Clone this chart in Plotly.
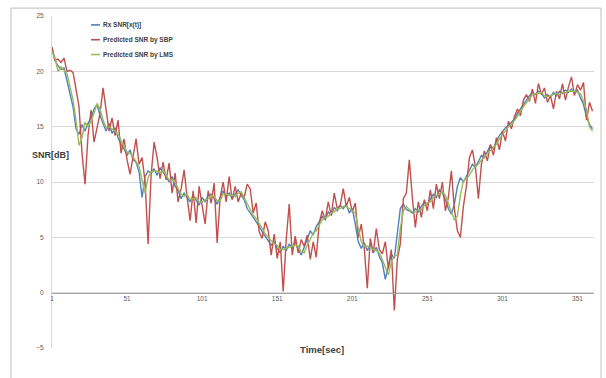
import plotly.graph_objects as go

# time axis (seconds), sampled every 2 s
times = list(range(1, 362, 2))

rx_snr = [22.0, 21.0, 20.5, 20.2, 20.3, 19.2, 18.0, 16.8, 14.8, 14.3,
          15.2, 14.6, 15.3, 15.8, 16.6, 17.0, 16.0, 15.2, 14.6, 15.3,
          14.4, 14.9, 14.0, 13.4, 13.0, 12.4, 12.9, 12.0, 11.8, 10.9,
          8.6, 10.5, 11.0, 10.8, 11.2, 10.6, 11.3, 10.9, 10.4, 10.0,
          10.5, 9.6, 9.2, 8.5, 9.0, 8.6, 8.2, 8.8, 8.4, 7.9,
          8.6, 8.2, 8.8, 8.9, 8.5, 8.0, 8.6, 9.2, 8.7, 9.0,
          8.5, 8.9, 9.3, 8.8, 8.4, 7.6, 7.2, 6.8, 6.5, 6.0,
          5.5, 5.1, 4.8, 4.3, 4.6, 4.0, 3.6, 4.2, 3.8, 4.4,
          4.0, 4.6, 3.9, 3.4, 4.1, 4.8, 5.6, 5.2, 6.0, 6.4,
          6.9, 6.6, 7.3, 7.0, 7.7, 7.4, 7.9, 7.6, 8.0, 7.2,
          7.6, 6.2, 4.6, 4.0, 4.5, 3.8, 4.4, 3.6, 4.1, 3.3,
          2.7, 1.2, 2.4, 3.5, 3.1, 5.2, 7.6, 8.0, 7.5, 7.4,
          7.2, 7.6, 7.3, 7.8, 8.2, 8.0, 8.5, 8.9, 8.6, 9.3,
          9.0, 8.4, 7.6, 7.1, 8.0, 9.6, 10.4, 10.0, 10.5, 11.0,
          11.6, 11.3, 11.9, 12.4, 12.2, 12.8, 13.3, 13.0, 13.7, 14.2,
          14.6, 14.9, 15.1, 15.4, 15.7, 16.2, 16.6, 17.0, 17.5, 17.8,
          18.1, 17.9, 18.2, 18.0, 17.6, 17.9, 17.7, 18.1, 17.8, 18.2,
          18.0, 18.3, 18.1, 18.4, 18.0, 18.3, 17.6, 17.0, 15.9, 15.2,
          14.8]

sbp_pred = [22.2, 21.0, 21.1, 20.8, 21.2, 20.0, 20.1, 19.9, 18.4, 16.8,
            12.6, 9.8, 14.2, 16.5, 13.6, 14.8, 16.2, 18.5, 16.6, 14.6,
            15.8, 14.2, 15.6, 12.6, 13.9, 12.0, 10.7, 12.5, 13.9, 11.6,
            12.2, 10.0, 4.4, 10.6, 13.6, 12.2, 10.3, 11.8, 10.2, 11.7,
            9.0, 10.8, 8.2, 9.4, 11.1, 8.6, 6.5, 9.2, 6.3, 9.6,
            8.0, 6.2, 9.2, 8.1, 9.9, 4.5, 8.6, 10.0, 8.2, 10.5,
            8.4, 9.6, 8.2, 9.0, 8.6, 9.8, 9.4, 7.2, 8.1, 5.5,
            4.9, 6.4, 5.6, 3.4, 5.3, 3.1, 4.6, 0.1, 4.8, 8.0,
            3.4, 5.1, 3.6, 4.8, 4.2, 5.2, 3.0, 4.6, 3.2, 6.3,
            7.4, 6.6, 8.2, 7.0, 9.0, 7.6, 7.9, 9.4, 7.8, 8.6,
            7.3, 8.1, 5.0, 6.2, 4.0, 0.4, 4.9, 3.6, 5.8, 3.9,
            3.5, 4.6, 2.2, 3.9, -1.6, 3.0, 4.4, 8.5, 9.0, 12.0,
            8.6, 5.9, 8.2, 6.8, 8.4, 7.4, 9.3, 7.6, 9.8, 8.5,
            10.0, 7.4, 8.6, 11.0, 7.6, 5.6, 5.0, 7.8, 9.6, 12.2,
            12.9, 11.4, 8.5, 11.6, 12.8, 11.9, 13.4, 12.4, 14.0, 12.9,
            14.6, 13.7, 15.5, 14.8, 15.9, 16.6, 16.0, 17.4, 17.9, 17.3,
            18.4, 17.1, 18.9, 17.9, 18.5, 17.2, 17.8, 16.6, 18.2, 17.5,
            18.9, 17.4, 18.6, 19.5, 17.8, 18.8, 18.3, 19.0, 15.6, 17.2,
            16.4]

lms_pred = [21.8, 21.2, 20.0, 20.4, 20.1, 19.8, 18.6, 17.4, 15.6, 13.3,
            14.0, 15.4, 15.0, 15.5, 16.2, 17.1, 16.6, 15.6, 14.9, 15.0,
            14.8, 14.6, 14.3, 13.7, 13.2, 12.7, 12.6, 12.3, 11.9, 11.4,
            10.2, 9.0, 10.4, 10.9, 11.0, 11.0, 10.8, 11.1, 10.6, 10.2,
            10.2, 10.0, 9.4, 8.9, 8.7, 8.9, 8.4, 8.5, 8.6, 8.2,
            8.2, 8.4, 8.5, 8.8, 8.7, 8.3, 8.3, 8.9, 8.9, 8.8,
            8.8, 8.7, 9.0, 9.1, 8.6, 8.0, 7.5, 7.0, 6.7, 6.3,
            5.8, 5.3, 5.0, 4.6, 4.4, 4.3, 3.9, 3.9, 4.0, 4.1,
            4.2, 4.3, 4.2, 3.7, 3.6, 4.3, 4.8, 5.4, 5.6, 6.1,
            6.6, 6.8, 6.9, 7.2, 7.3, 7.6, 7.6, 7.8, 7.8, 7.6,
            7.4, 7.2, 5.8, 4.6, 4.2, 4.2, 4.1, 3.9, 3.8, 3.6,
            3.0, 2.3, 1.6, 2.8, 3.3, 3.4, 5.8, 7.4, 7.8, 7.5,
            7.3, 7.3, 7.5, 7.5, 7.9, 8.1, 8.2, 8.6, 8.8, 8.9,
            9.1, 8.8, 8.0, 7.4, 6.6, 6.9, 8.8, 10.1, 10.3, 10.6,
            11.1, 11.4, 11.6, 12.0, 12.3, 12.5, 12.9, 13.2, 13.4, 13.9,
            14.3, 14.7, 15.0, 15.2, 15.5, 15.9, 16.4, 16.8, 17.2, 17.6,
            17.9, 18.0, 18.0, 18.1, 17.8, 17.7, 17.8, 17.9, 18.0, 17.9,
            18.1, 18.1, 18.2, 18.2, 18.2, 18.1, 18.0, 17.3, 16.5, 15.0,
            14.6]

x_tick_vals = [1, 51, 101, 151, 201, 251, 301, 351]
y_tick_vals = [-5, 0, 5, 10, 15, 20, 25]

series_names = ["Rx SNR[x(t)]", "Predicted SNR by SBP", "Predicted SNR by LMS"]
series_colors = ["#4F81BD", "#C0504D", "#9BBB59"]

# layout geometry (pixels)
W, H = 606, 378
ML, MR, MT, MB = 52, 12, 12, 30
PW, PH = W - ML - MR, H - MT - MB
y_min, y_max = -5, 25

fig = go.Figure()
for name, vals, col in zip(series_names, [rx_snr, sbp_pred, lms_pred], series_colors):
    fig.add_trace(go.Scatter(x=times, y=vals, mode="lines", name=name,
                             line=dict(color=col, width=1.4), showlegend=False))

font_fam = "Liberation Sans, Arial, sans-serif"


def px_x(p):
    return (p - ML) / PW


def px_y(p):
    return (H - MB - p) / PH


# manual legend (Excel style: short sample line + text)
shapes = [dict(type="rect", xref="paper", yref="paper",
               x0=px_x(11), x1=px_x(601), y0=px_y(384), y1=px_y(4),
               line=dict(color="#BFBFBF", width=1), fillcolor="rgba(0,0,0,0)",
               layer="above")]
annotations = []
for i, (name, col) in enumerate(zip(series_names, series_colors)):
    row_y = 21 + 15 * i
    shapes.append(dict(type="line", xref="paper", yref="paper",
                       x0=px_x(91), x1=px_x(100), y0=px_y(row_y), y1=px_y(row_y),
                       line=dict(color=col, width=1.6)))
    annotations.append(dict(text="<b>" + name + "</b>", xref="paper", yref="paper",
                            x=px_x(101), y=px_y(row_y), xanchor="left", yanchor="middle",
                            showarrow=False,
                            font=dict(family=font_fam, size=6.5, color="#404040")))

annotations += [
    dict(text="<b>SNR[dB]</b>", xref="paper", yref="paper",
         x=px_x(30), y=px_y(153), showarrow=False,
         font=dict(family=font_fam, size=9, color="#404040")),
    dict(text="<b>Time[sec]</b>", xref="paper", yref="paper",
         x=px_x(322), y=px_y(357), showarrow=False,
         font=dict(family=font_fam, size=9.5, color="#404040")),
]

fig.update_layout(
    width=W, height=H,
    margin=dict(l=ML, r=MR, t=MT, b=MB),
    paper_bgcolor="white", plot_bgcolor="white",
    font=dict(family=font_fam, size=7, color="#595959"),
    showlegend=False,
    xaxis=dict(range=[1, 362], tickvals=x_tick_vals,
               ticktext=[str(v) for v in x_tick_vals],
               anchor="free", position=(0 - y_min) / (y_max - y_min),
               showgrid=False, zeroline=False, showline=True,
               linecolor="#A6A6A6", linewidth=1, ticks="",
               tickfont=dict(size=6.5, color="#595959")),
    yaxis=dict(range=[y_min, y_max], tickvals=y_tick_vals,
               showgrid=True, gridcolor="#D9D9D9", gridwidth=1,
               zeroline=False, showline=True, linecolor="#D9D9D9",
               ticks="", ticklabelstandoff=6,
               tickfont=dict(size=6.5, color="#595959")),
    shapes=shapes,
    annotations=annotations,
)

fig.write_html("out.html", config={"displayModeBar": False},
               post_script="document.body.style.margin='0';document.body.style.overflow='hidden';")
